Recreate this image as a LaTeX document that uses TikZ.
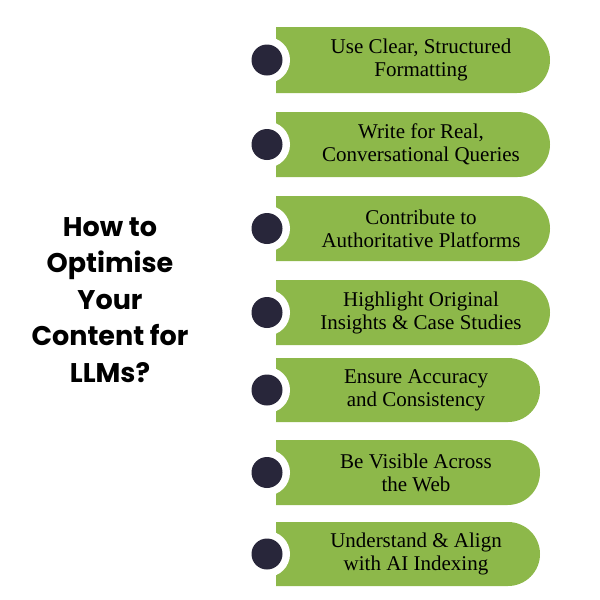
\documentclass[tikz,border=0pt]{standalone}
\usepackage{fontspec}
\setmainfont{Liberation Serif}
\newfontfamily\titlefont{Poppins}
\usepackage{xcolor}
\definecolor{barGreen}{HTML}{8DB84A}
\definecolor{dotDark}{HTML}{28263A}
\tikzset{
  stepText/.style={align=center, font=\fontsize{21}{23}\selectfont, text=black},
  dotRing/.style={circle, fill=white, minimum size=46pt, inner sep=0pt},
  dotCore/.style={circle, fill=dotDark, minimum size=31pt, inner sep=0pt}
}
\begin{document}
\begin{tikzpicture}[x=1pt,y=-1pt]
\useasboundingbox (0,0) rectangle (600,600);

% bars: top, bottom, right end
\foreach \t/\b/\r/\txt [count=\i] in {
  27/93/550/{Use Clear, Structured\\Formatting},
  112/177/550/{Write for Real,\\Conversational Queries},
  196/261/550/{Contribute to\\Authoritative Platforms},
  280/345/550/{Highlight Original\\Insights \& Case Studies},
  358/422/540/{Ensure Accuracy\\and Consistency},
  440/505/540/{Be Visible Across\\the Web},
  522/586/540/{Understand \& Align\\with AI Indexing}} {
  \pgfmathsetmacro{\h}{(\b-\t)/2-0.01}
  \fill[barGreen] (276,\t) [rounded corners=\h pt] -- (\r,\t) -- (\r,\b) [sharp corners] -- (276,\b) -- cycle;
  \node[stepText] (step\i) at ({(276+\r)/2+8},{(\t+\b)/2}) {\txt};
  \node[dotRing] (ring\i) at (267,{(\t+\b)/2}) {};
  \node[dotCore] (dot\i) at (ring\i) {};
}

\node[align=center, font=\titlefont\bfseries\fontsize{27}{36.5}\selectfont] (title) at (110,300)
  {How to\\Optimise\\Your\\Content for\\LLMs?};
\end{tikzpicture}
\end{document}
